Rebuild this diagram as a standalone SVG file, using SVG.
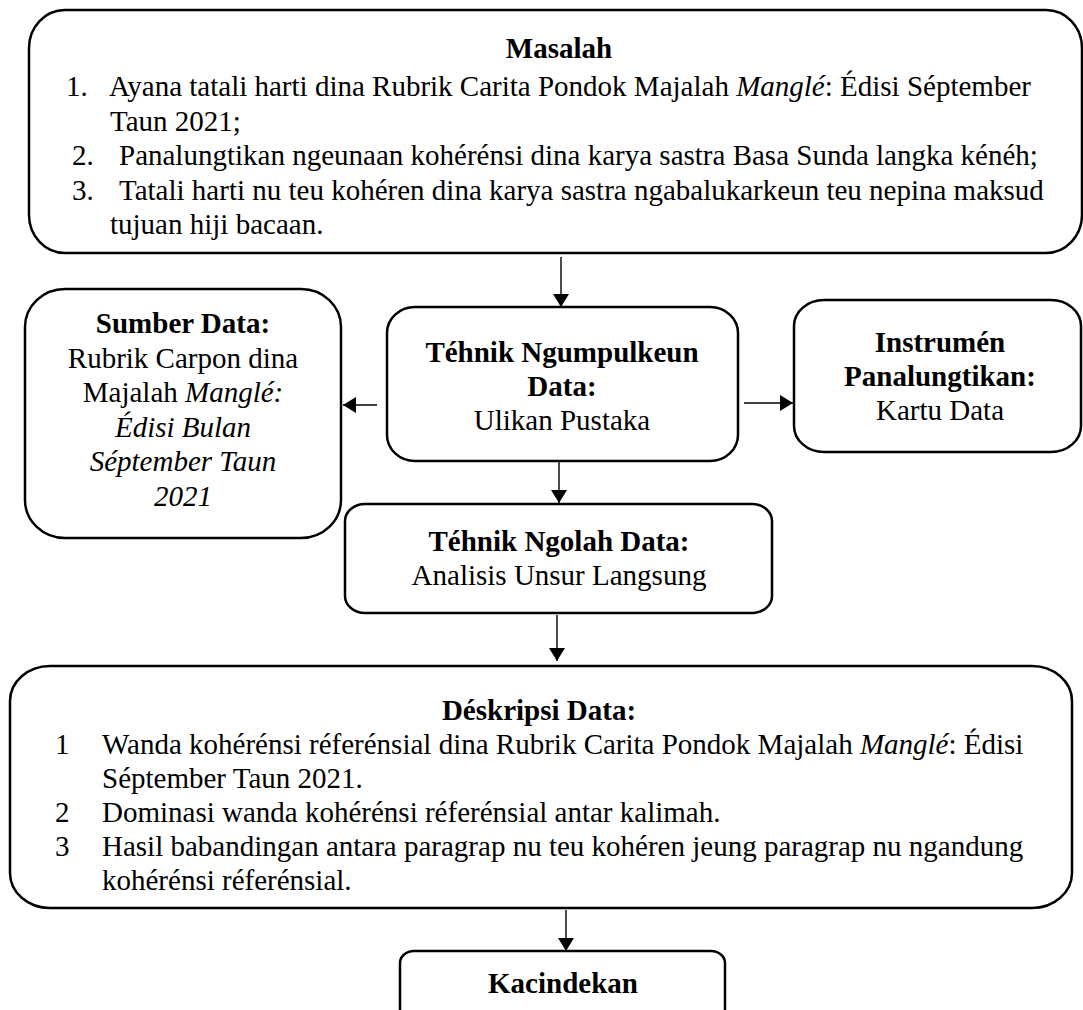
<svg xmlns="http://www.w3.org/2000/svg" width="1083" height="1010" viewBox="0 0 1083 1010">
<style>
.box{fill:#fff;stroke:#000;stroke-width:2.5}
.con{stroke:#000;stroke-width:1.4;fill:none;marker-end:url(#ah)}
text{font-family:"Liberation Serif","Times New Roman",serif;font-size:29px;fill:#000}
.b{font-weight:bold}
.c{text-anchor:middle}
.i{font-style:italic}
</style>
<defs>
<marker id="ah" markerUnits="userSpaceOnUse" markerWidth="14" markerHeight="16" refX="13" refY="8" orient="auto">
<path d="M0,0 L13,8 L0,16 z" fill="#000"/>
</marker>
</defs>
<rect width="1083" height="1010" fill="#fff"/>
<g id="connectors">
<line class="con" x1="561" y1="257" x2="561" y2="307"/>
<line class="con" x1="377" y1="405" x2="343" y2="405"/>
<line class="con" x1="744" y1="403" x2="793" y2="403"/>
<line class="con" x1="559" y1="462" x2="559" y2="503"/>
<line class="con" x1="557" y1="615" x2="557" y2="661"/>
<line class="con" x1="566" y1="910" x2="566" y2="951"/>
</g>
<g id="masalah">
<rect class="box" x="29" y="10" width="1053" height="243" rx="36" ry="38"/>
<text class="b c" x="559" y="58">Masalah</text>
<text x="66" y="96">1.</text>
<text x="109" y="96">Ayana tatali harti dina Rubrik Carita Pondok Majalah <tspan class="i">Manglé</tspan>: Édisi Séptember</text>
<text x="110" y="130.5">Taun 2021;</text>
<text x="72" y="165">2.</text>
<text x="119" y="165">Panalungtikan ngeunaan kohérénsi dina karya sastra Basa Sunda langka kénéh;</text>
<text x="72" y="199.5">3.</text>
<text x="119" y="199.5">Tatali harti nu teu kohéren dina karya sastra ngabalukarkeun teu nepina maksud</text>
<text x="110" y="234">tujuan hiji bacaan.</text>
</g>
<g id="sumber">
<rect class="box" x="25" y="289" width="316" height="249" rx="40" ry="38"/>
<text class="b c" x="183" y="333">Sumber Data:</text>
<text class="c" x="183" y="367.5">Rubrik Carpon dina</text>
<text class="c" x="183" y="402">Majalah <tspan class="i">Manglé:</tspan></text>
<text class="c i" x="183" y="436.5">Édisi Bulan</text>
<text class="c i" x="183" y="471">Séptember Taun</text>
<text class="c i" x="183" y="505.5">2021</text>
</g>
<g id="ngumpulkeun">
<rect class="box" x="387" y="307" width="351" height="154" rx="28" ry="26"/>
<text class="b c" x="562" y="362">Téhnik Ngumpulkeun</text>
<text class="b c" x="562" y="396">Data:</text>
<text class="c" x="562" y="430">Ulikan Pustaka</text>
</g>
<g id="instrumen">
<rect class="box" x="794" y="300" width="287" height="152" rx="30" ry="26"/>
<text class="b c" x="940" y="352">Instrumén</text>
<text class="b c" x="940" y="386">Panalungtikan:</text>
<text class="c" x="940" y="420">Kartu Data</text>
</g>
<g id="ngolah">
<rect class="box" x="345" y="504" width="427" height="109" rx="20" ry="17"/>
<text class="b c" x="559" y="551">Téhnik Ngolah Data:</text>
<text class="c" x="559" y="585">Analisis Unsur Langsung</text>
</g>
<g id="deskripsi">
<rect class="box" x="10" y="666" width="1062" height="242" rx="40" ry="35"/>
<text class="b c" x="539" y="720">Déskripsi Data:</text>
<text x="55" y="754">1</text>
<text x="102" y="754">Wanda kohérénsi réferénsial dina Rubrik Carita Pondok Majalah <tspan class="i">Manglé</tspan>: Édisi</text>
<text x="102" y="788">Séptember Taun 2021.</text>
<text x="55" y="822">2</text>
<text x="102" y="822">Dominasi wanda kohérénsi réferénsial antar kalimah.</text>
<text x="55" y="856">3</text>
<text x="102" y="856">Hasil babandingan antara paragrap nu teu kohéren jeung paragrap nu ngandung</text>
<text x="102" y="890">kohérénsi réferénsial.</text>
</g>
<g id="kacindekan">
<rect class="box" x="400" y="951" width="325" height="90" rx="14" ry="12"/>
<text class="b c" x="563" y="993">Kacindekan</text>
</g>
</svg>
